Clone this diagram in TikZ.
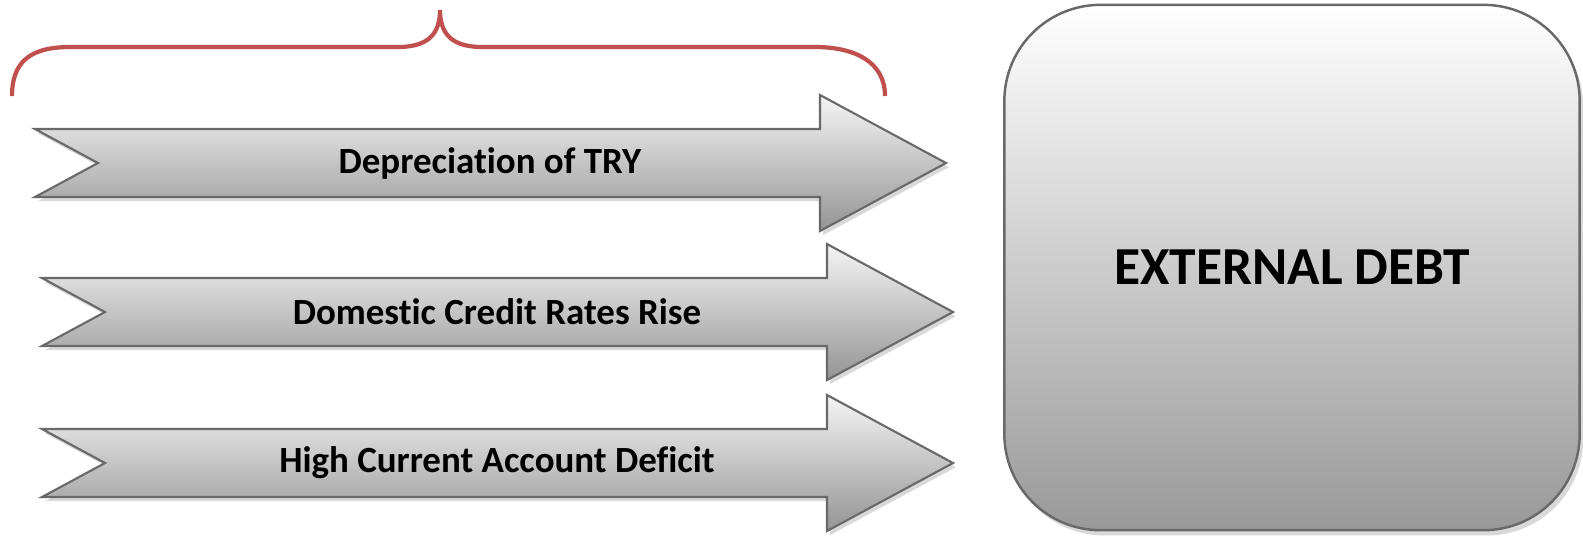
\documentclass[tikz,border=0pt]{standalone}
\usepackage{fontspec}
\setmainfont{Carlito}[Ligatures=NoCommon]
\usetikzlibrary{shadows, positioning}
\definecolor{bracered}{RGB}{192, 80, 77}
\definecolor{edgegray}{RGB}{105, 105, 105}
\tikzset{
  causearrow/.style={draw=edgegray, line width=0.6pt, top color=white!96!black, bottom color=black!42,
    drop shadow={shadow xshift=0.8pt, shadow yshift=-1.2pt, opacity=0.3}},
  causetext/.style={font=\bfseries\fontsize{10.5}{12}\selectfont},
}

\begin{document}
\begin{tikzpicture}[x=0.01cm, y=-0.01cm]
  \useasboundingbox (0,0) rectangle (1583,538);

  % Brace over the causes
  \draw[bracered, line width=1.2pt] (12,96) .. controls (12,62) and (30,47) .. (70,47) -- (398,47)
    .. controls (430,47) and (440,32) .. (440,10) .. controls (440,32) and (450,47) .. (482,47)
    -- (815,47) .. controls (855,47) and (885,62) .. (885,96);

  % Cause arrows
  \foreach \yc/\xl/\name/\txt in {163/35/deprec/{Depreciation of TRY},
                                  312/42/credit/{Domestic Credit Rates Rise},
                                  463/42/deficit/{High Current Account Deficit}} {
    \path[causearrow] (\xl,\yc-34) -- (\xl+785,\yc-34) -- (\xl+785,\yc-68) -- (\xl+911,\yc)
      -- (\xl+785,\yc+68) -- (\xl+785,\yc+34) -- (\xl,\yc+34) -- (\xl+63,\yc) -- cycle;
    \node[causetext] (\name) at (\xl+455,\yc) {\txt};
  }

  % Result
  \node[draw=edgegray, line width=0.7pt, rounded corners=0.96cm, minimum width=5.75cm, minimum height=5.25cm,
    top color=white, bottom color=black!40, font=\bfseries\fontsize{15.2}{18}\selectfont,
    drop shadow={shadow xshift=1pt, shadow yshift=-1.5pt, opacity=0.3}] (debt) at (1292,267.5) {EXTERNAL DEBT};
\end{tikzpicture}
\end{document}
